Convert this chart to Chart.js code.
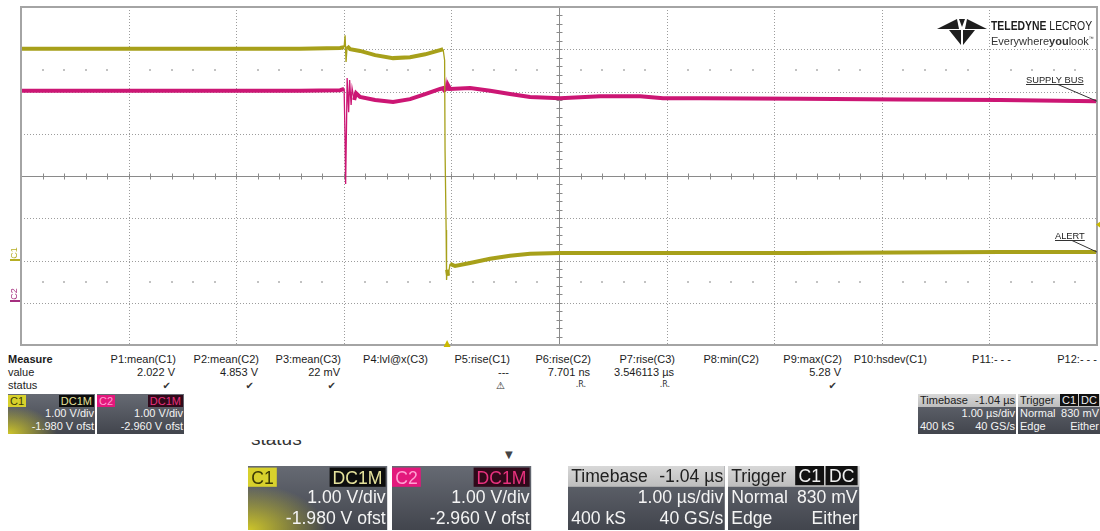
<!DOCTYPE html>
<html>
<head>
<meta charset="utf-8">
<script src="https://cdn.jsdelivr.net/npm/chart.js@4.4.1/dist/chart.umd.min.js"></script>
<style>
  body { margin: 0; width: 1100px; height: 531px; background: #fff; position: relative; overflow: hidden;
         font-family: "Liberation Sans", Arial, sans-serif; color: #1c1c1c; }
  #scope { position: absolute; left: 0; top: 0; }
  .abs { position: absolute; white-space: nowrap; }
  .mtxt { font-size: 11px; line-height: 13px; text-align: right; }
  .box { position: absolute; height: 40px; overflow: hidden; font-size: 11px; line-height: 13px; color: #f4f4f4;
         background: linear-gradient(#666a73, #42454d); transform-origin: 0 0; }
  .box .r { height: 13px; display: flex; justify-content: space-between; align-items: center; padding: 0 1px 0 2px; }
  .box .r.end { justify-content: flex-end; }
  .box .hd { background: linear-gradient(#d8d8d8, #bdbdbd); color: #202020; }
  .tag { padding: 0 2px; line-height: 12px; }
  .big { transform: scale(1.6); filter: blur(0.3px); }
  #logo .name { font-size: 13px; color: #1e1e1e; transform: scaleX(0.8); transform-origin: 0 0; }
  #logo .tagline { font-size: 11px; color: #333; line-height: 11px; }
</style>
</head>
<body>
<canvas id="scope" width="1100" height="350"></canvas>

<div id="logo" class="abs" style="left:936px; top:16px;">
  <svg class="abs" style="left:0; top:1px;" width="52" height="29" viewBox="0 0 52 29">
    <polygon points="1,12 21,2 23,12" fill="#1e1e1e"/>
    <polygon points="51,12 31,2 29,12" fill="#1e1e1e"/>
    <polygon points="23,2 29,2 26,10" fill="#1e1e1e"/>
    <polygon points="13,13 25,13 25,28" fill="#1e1e1e"/>
    <polygon points="27,13 39,13 27,28" fill="#1e1e1e"/>
  </svg>
  <div class="abs name" style="left:55px; top:2px;"><b>TELEDYNE</b> LECROY</div>
  <div class="abs tagline" style="left:55px; top:17px;">Everywhere<b>you</b>look<sup style="font-size:5px">™</sup></div>
</div>

<div id="panel"></div>

<script>
// channel / timebase settings
const c1VoltsPerDiv = 1.00, c1Offset = -1.980;
const c2VoltsPerDiv = 1.00, c2Offset = -2.960;
const usPerDiv = 1.00, triggerDelay = -1.04, triggerLevel = 0.83;
const H_DIVS = 10, V_DIVS = 8;

// C1 (ALERT): time in µs, level in V
const c1Time = [-3.96, -3.23, -2.30, -1.37, -0.994, -0.957, -0.948, -0.939, -0.929, -0.901, -0.809, -0.669,
  -0.502, -0.344, -0.204, -0.065, -0.037, -0.023, -0.019, -0.009, -0.005, 0, 0.009, 0.028, 0.074, 0.214,
  0.400, 0.585, 0.771, 1.050, 1.422, 2.351, 3.281, 4.210, 5.139, 6.04];
const c1Volts = [4.99, 4.99, 4.99, 4.99, 5.01, 5.03, 5.31, 4.68, 5.05, 4.98, 4.94, 4.84,
  4.77, 4.79, 4.86, 4.96, 4.98, 4.72, 2.59, 0.70, -0.48, -0.24, -0.38, -0.10, -0.15, -0.08,
  0.02, 0.09, 0.14, 0.16, 0.16, 0.16, 0.16, 0.17, 0.18, 0.18];

// C2 (SUPPLY BUS)
const c2Time = [-3.96, -2.30, -1.37, -0.994, -0.957, -0.948, -0.943, -0.934, -0.929, -0.915,
  -0.906, -0.892, -0.883, -0.864, -0.846, -0.809, -0.669, -0.502, -0.344, -0.204,
  -0.065, -0.037, -0.019, -0.009, 0, 0.009, 0.028, 0.214, 0.400, 0.585,
  0.771, 1.050, 1.422, 1.794, 2.007, 2.351, 3.281, 4.210, 5.139, 6.04];
const c2Volts = [4.98, 4.98, 4.98, 4.99, 5.02, 3.81, 2.77, 4.28, 5.28, 4.47,
  5.23, 4.64, 5.04, 4.76, 4.92, 4.83, 4.76, 4.71, 4.78, 4.90,
  5.02, 5.04, 4.95, 5.18, 4.98, 5.11, 5.02, 5.04, 4.98, 4.90,
  4.83, 4.80, 4.85, 4.85, 4.80, 4.80, 4.79, 4.77, 4.76, 4.73];

// measurement table
const measureNames = ['P1:mean(C1)', 'P2:mean(C2)', 'P3:mean(C3)', 'P4:lvl@x(C3)', 'P5:rise(C1)', 'P6:rise(C2)',
  'P7:rise(C3)', 'P8:min(C2)', 'P9:max(C2)', 'P10:hsdev(C1)', 'P11:- - -', 'P12:- - -'];
const measureValues = ['2.022 V', '4.853 V', '22 mV', '', '---', '7.701 ns', '3.546113 µs', '', '5.28 V', '', '', ''];
const measureStatus = ['✔', '✔', '✔', '', '⚠', '.R.', '.R.', '', '✔', '', '', ''];
const measureRight = [176, 259, 341, 428, 510, 591, 675, 759, 842, 927, 1011, 1097];

const C1_COLOR = '#a7a01a', C2_COLOR = '#cc1674';

const yRange = (vdiv, ofs) => ({ min: (-V_DIVS / 2 - ofs) * vdiv, max: (V_DIVS / 2 - ofs) * vdiv });
const tCenter = -triggerDelay;

// fast edges only leave a thin trail on the display
const edgeWidth = ctx => {
  const dx = Math.abs(ctx.p1.x - ctx.p0.x), dy = Math.abs(ctx.p1.y - ctx.p0.y);
  return dy > 8 && dy > 4 * dx ? 1.3 : undefined;
};

const graticule = {
  id: 'graticule',
  beforeDatasetsDraw(chart) {
    const { ctx, chartArea: a, scales } = chart;
    const xs = scales.x, ds = scales.div;
    const xAt = k => xs.getPixelForValue(xs.min + k * (xs.max - xs.min) / H_DIVS);
    const yAt = k => ds.getPixelForValue(ds.min + k * (ds.max - ds.min) / V_DIVS);
    ctx.save();
    ctx.lineWidth = 1;
    ctx.strokeStyle = '#9c9c9c';
    ctx.setLineDash([1, 2]);
    ctx.beginPath();
    for (let k = 1; k < H_DIVS; k++) {
      if (k === H_DIVS / 2) continue;
      const px = Math.round(xAt(k)) + 0.5;
      ctx.moveTo(px, a.top); ctx.lineTo(px, a.bottom);
    }
    for (let k = 1; k < V_DIVS; k++) {
      if (k === V_DIVS / 2) continue;
      const py = Math.round(yAt(k)) + 0.5;
      ctx.moveTo(a.left, py); ctx.lineTo(a.right, py);
    }
    ctx.stroke();
    ctx.setLineDash([]);

    // centre axes with minor ticks
    const cx = Math.round(xAt(H_DIVS / 2)) + 0.5, cy = Math.round(yAt(V_DIVS / 2)) + 0.5;
    ctx.strokeStyle = '#8a8a8a';
    ctx.beginPath();
    ctx.moveTo(cx, a.top); ctx.lineTo(cx, a.bottom);
    ctx.moveTo(a.left, cy); ctx.lineTo(a.right, cy);
    for (let m = 1; m < H_DIVS * 5; m++) {
      const px = Math.round(xAt(m / 5)) + 0.5;
      ctx.moveTo(px, cy - 3); ctx.lineTo(px, cy + 3);
    }
    for (let m = 1; m < V_DIVS * 5; m++) {
      const py = Math.round(yAt(m / 5)) + 0.5;
      ctx.moveTo(cx - 3, py); ctx.lineTo(cx + 3, py);
    }
    ctx.stroke();

    // faint dot rows 2.5 div above and below centre
    ctx.fillStyle = '#c2c2c2';
    [V_DIVS / 2 - 2.5, V_DIVS / 2 + 2.5].forEach(k => {
      const py = Math.round(yAt(k));
      for (let m = 1; m < H_DIVS * 5; m++) {
        if (m % 5 === 0) continue;
        ctx.fillRect(Math.round(xAt(m / 5)) - 1, py - 1, 2, 2);
      }
    });
    ctx.restore();
  },
  afterDatasetsDraw(chart) {
    const { ctx, chartArea: a, scales } = chart;
    const xs = scales.x, y1 = scales.yC1, y2 = scales.yC2;
    ctx.save();
    ctx.strokeStyle = '#a4a4a4';
    ctx.lineWidth = 2;
    ctx.strokeRect(a.left, a.top, a.right - a.left, a.bottom - a.top);

    // trigger position and trigger level markers
    const tx = xs.getPixelForValue(0);
    ctx.fillStyle = '#cbb900';
    ctx.beginPath();
    ctx.moveTo(tx, a.bottom - 5); ctx.lineTo(tx - 3.5, a.bottom + 2); ctx.lineTo(tx + 3.5, a.bottom + 2);
    ctx.fill();
    const ty = y1.getPixelForValue(triggerLevel);
    ctx.beginPath();
    ctx.moveTo(a.right - 1, ty); ctx.lineTo(a.right + 4, ty - 3.5); ctx.lineTo(a.right + 4, ty + 3.5);
    ctx.fill();

    // channel ground markers
    [[y1, 'C1', '#b6ae25'], [y2, 'C2', '#a52f7f']].forEach(([s, name, col]) => {
      const gy = Math.round(s.getPixelForValue(0));
      ctx.fillStyle = col;
      ctx.fillRect(10, gy - 1, 10, 2);
      ctx.save();
      ctx.translate(15, gy - 7);
      ctx.rotate(-Math.PI / 2);
      ctx.font = '9px "Liberation Sans"';
      ctx.textAlign = 'center';
      ctx.textBaseline = 'middle';
      ctx.fillText(name, 0, 0);
      ctx.restore();
    });

    // trace labels with leader lines to the trace ends
    const label = (text, lx, ly, sx, s, t, v) => {
      ctx.font = '9.3px "Liberation Sans"';
      ctx.fillStyle = '#222';
      ctx.textBaseline = 'alphabetic';
      ctx.textAlign = 'left';
      ctx.fillText(text, lx, ly);
      const w = ctx.measureText(text).width;
      ctx.strokeStyle = '#333';
      ctx.lineWidth = 1;
      ctx.beginPath();
      ctx.moveTo(lx, ly + 1.5); ctx.lineTo(lx + w, ly + 1.5);
      ctx.moveTo(sx, ly + 1.5); ctx.lineTo(xs.getPixelForValue(t), s.getPixelForValue(v));
      ctx.stroke();
    };
    label('SUPPLY BUS', 1026, 83, 1058, y2, c2Time[c2Time.length - 1], c2Volts[c2Volts.length - 1]);
    label('ALERT', 1055, 239, 1072, y1, c1Time[c1Time.length - 1], c1Volts[c1Volts.length - 1]);
    ctx.restore();
  }
};

new Chart(document.getElementById('scope'), {
  type: 'line',
  data: {
    datasets: [
      { label: 'C1', data: c1Time.map((t, i) => ({ x: t, y: c1Volts[i] })), yAxisID: 'yC1',
        borderColor: C1_COLOR, borderWidth: 4, pointRadius: 0, tension: 0, segment: { borderWidth: edgeWidth } },
      { label: 'C2', data: c2Time.map((t, i) => ({ x: t, y: c2Volts[i] })), yAxisID: 'yC2',
        borderColor: C2_COLOR, borderWidth: 4, pointRadius: 0, tension: 0, segment: { borderWidth: edgeWidth } }
    ]
  },
  options: {
    responsive: false,
    animation: false,
    devicePixelRatio: 1,
    layout: { padding: { left: 21, top: 7, right: 3, bottom: 5 } },
    plugins: { legend: { display: false }, tooltip: { enabled: false } },
    scales: {
      x: { type: 'linear', axis: 'x', min: tCenter - H_DIVS / 2 * usPerDiv, max: tCenter + H_DIVS / 2 * usPerDiv, display: false },
      yC1: { type: 'linear', axis: 'y', ...yRange(c1VoltsPerDiv, c1Offset), display: false },
      yC2: { type: 'linear', axis: 'y', ...yRange(c2VoltsPerDiv, c2Offset), display: false },
      div: { type: 'linear', axis: 'y', min: -V_DIVS / 2, max: V_DIVS / 2, display: false }
    }
  },
  plugins: [graticule]
});

// measurement rows and setting boxes below the grid
const panel = document.getElementById('panel');
const put = (html, css) => { const d = document.createElement('div'); d.className = 'abs'; d.style.cssText = css; d.innerHTML = html; panel.appendChild(d); return d; };

put('<b>Measure</b>', 'left:8px; top:353px; font-size:11px;');
put('value', 'left:8px; top:366px; font-size:11px;');
put('status', 'left:8px; top:379px; font-size:11px;');
measureNames.forEach((n, i) => {
  const right = (1100 - measureRight[i]) + 'px';
  put(n, `right:${right}; top:353px;`).classList.add('mtxt');
  if (measureValues[i]) put(measureValues[i], `right:${1100 - measureRight[i] + 1}px; top:366px;`).classList.add('mtxt');
  if (measureStatus[i]) {
    const s = measureStatus[i];
    const size = s === '.R.' ? 8 : 10;
    put(s, `right:${(1100 - measureRight[i] + 5)}px; top:380px; font-size:${size}px; color:#333; font-family:'DejaVu Sans';`);
  }
});

const channelBox = (name, tagBg, tagFg, cplBg, cplFg, glow, x, y, big) => put(
  `<div class="r"><span class="tag" style="background:${tagBg};color:${tagFg};margin-left:-2px">${name}</span>` +
  `<span class="tag" style="background:${cplBg};color:${cplFg}">DC1M</span></div>` +
  `<div class="r end">1.00 V/div</div><div class="r end">${name === 'C1' ? c1Offset.toFixed(3) : c2Offset.toFixed(3)} V ofst</div>`,
  `left:${x}px; top:${y}px; width:87px;` + (glow ? 'background: radial-gradient(ellipse 75% 95% at 0% 100%, rgba(214,205,40,0.95), rgba(214,205,40,0) 75%), linear-gradient(#666a73, #42454d);' : '')
).className = 'box' + (big ? ' big' : '');

const timebaseBox = (x, y, big) => put(
  `<div class="r hd"><span>Timebase</span><span>${triggerDelay.toFixed(2)} µs</span></div>` +
  `<div class="r end">${usPerDiv.toFixed(2)} µs/div</div><div class="r"><span>400 kS</span><span>40 GS/s</span></div>`,
  `left:${x}px; top:${y}px; width:98px;`
).className = 'box' + (big ? ' big' : '');

const triggerBox = (x, y, big) => put(
  `<div class="r hd"><span>Trigger</span><span><span class="tag" style="background:#111;color:#eee">C1</span><span class="tag" style="background:#111;color:#eee;margin-left:1px">DC</span></span></div>` +
  `<div class="r"><span>Normal</span><span>${Math.round(triggerLevel * 1000)} mV</span></div><div class="r"><span>Edge</span><span>Either</span></div>`,
  `left:${x}px; top:${y}px; width:82px;`
).className = 'box' + (big ? ' big' : '');

channelBox('C1', '#d8d12c', '#3b3a05', '#0d0d0d', '#e6e29c', true, 8, 394, false);
channelBox('C2', '#e3187c', '#ff9fd2', '#30091a', '#e8317e', false, 97, 394, false);
timebaseBox(918, 394, false);
triggerBox(1018, 394, false);

// enlarged copy of the status strip, its heading cut off by the top edge
put('<div style="margin-top:-12px; font-size:19px; line-height:22px; color:#333;">status</div>', 'left:251px; top:440px; height:12px; overflow:hidden;');
put('▼', 'left:505px; top:449px; font-size:10px; color:#444; font-family:"DejaVu Sans";');
channelBox('C1', '#d8d12c', '#3b3a05', '#0d0d0d', '#e6e29c', true, 248, 466, true);
channelBox('C2', '#e3187c', '#ff9fd2', '#30091a', '#e8317e', false, 392, 466, true);
timebaseBox(568, 466, true);
triggerBox(728, 466, true);
</script>
</body>
</html>
